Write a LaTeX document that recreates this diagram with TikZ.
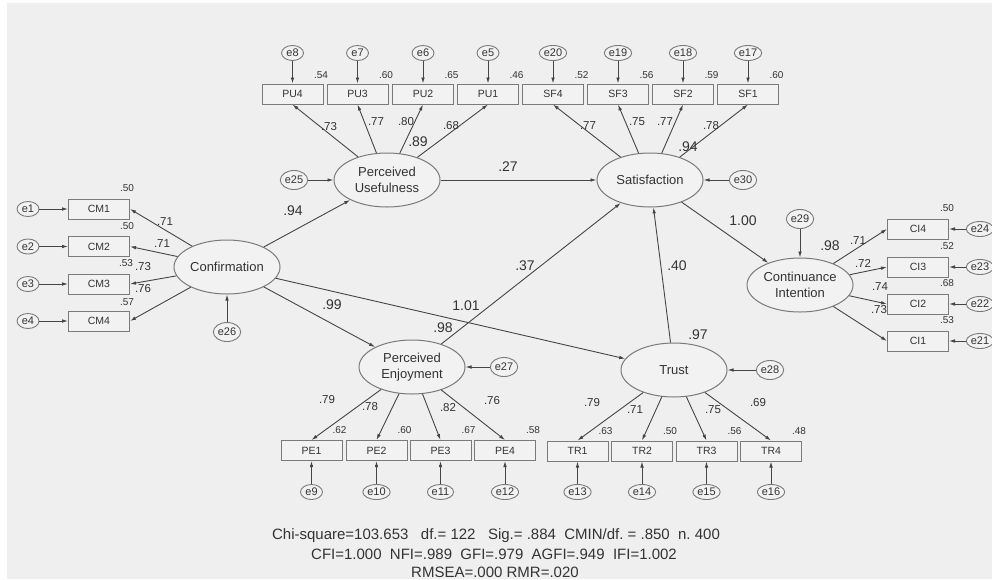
\documentclass[tikz,border=0pt]{standalone}
\usepackage{fontspec}
\setmainfont{Liberation Sans}
\usetikzlibrary{arrows.meta,shapes.geometric}
\definecolor{bg}{HTML}{EFEFEF}
\definecolor{ink}{HTML}{333333}
\definecolor{edge}{HTML}{454545}
\definecolor{boxline}{HTML}{7A7A7A}
\definecolor{boxfill}{HTML}{F2F2F2}
\frenchspacing
\begin{document}
\begin{tikzpicture}[x=1pt,y=-1pt,
  latent/.style={ellipse, draw=boxline, fill=boxfill, line width=1pt,
    minimum width=106pt, minimum height=54pt, inner sep=0pt, align=center,
    font=\fontsize{13}{16.5}\selectfont, text=ink},
  indic/.style={rectangle, draw=boxline, fill=boxfill, line width=1pt,
    minimum width=61pt, minimum height=20pt, inner sep=0pt,
    font=\fontsize{10.5}{12}\selectfont, text=ink},
  err/.style={ellipse, draw=boxline, fill=boxfill, line width=0.9pt,
    minimum width=22pt, minimum height=15pt, inner sep=0.5pt,
    font=\fontsize{11}{12}\selectfont, text=ink},
  dist/.style={err, minimum width=27pt, minimum height=19pt},
  arr/.style={draw=edge, line width=0.9pt, -{Latex[length=6pt,width=3.6pt]}},
  rsq/.style={font=\fontsize{10}{12}\selectfont, text=ink, inner sep=0pt},
  wt/.style={font=\fontsize{11.5}{13}\selectfont, text=ink, inner sep=0pt},
  big/.style={font=\fontsize{14}{16}\selectfont, text=ink, inner sep=0pt},
  fit/.style={font=\fontsize{15}{18}\selectfont, text=ink, inner sep=0pt},
]
% canvas
\useasboundingbox (0,0) rectangle (992,579);
\fill[white] (0,0) rectangle (992,579);
\fill[bg] (7,3) rectangle (992,579);

% latent variables
\node[latent] (pu)    at (387,180) {Perceived\\Usefulness};
\node[latent] (sat)   at (650,180) {Satisfaction};
\node[latent] (conf)  at (227,267) {Confirmation};
\node[latent] (ci)    at (800,285) {Continuance\\Intention};
\node[latent] (pe)    at (412,367) {Perceived\\Enjoyment};
\node[latent] (trust) at (674,370) {Trust};

% disturbances of the latent variables
\node[dist] (e25) at (294,180) {e25};
\node[dist] (e30) at (743,180) {e30};
\node[dist] (e26) at (227,332) {e26};
\node[dist] (e29) at (800,219) {e29};
\node[dist] (e27) at (504,367) {e27};
\node[dist] (e28) at (770,370) {e28};
\draw[arr] (e25) -- (pu);
\draw[arr] (e30) -- (sat);
\draw[arr] (e26) -- (conf);
\draw[arr] (e29) -- (ci);
\draw[arr] (e27) -- (pe);
\draw[arr] (e28) -- (trust);

% top indicators: PU and SF
\foreach \nm/\lab/\x/\ee/\r in {pu4/PU4/292.5/e8/.54, pu3/PU3/357.5/e7/.60,
    pu2/PU2/423/e6/.65, pu1/PU1/488/e5/.46}{
  \node[indic] (\nm) at (\x,94) {\lab};
  \node[err] (\ee) at (\x,53) {\ee};
  \draw[arr] (\ee) -- (\nm);
  \draw[arr] (pu) -- (\nm.south);
  \node[rsq] at (\x+28.5,75) {\r};
}
\foreach \nm/\lab/\x/\ee/\r in {sf4/SF4/553/e20/.52, sf3/SF3/618/e19/.56,
    sf2/SF2/683/e18/.59, sf1/SF1/748/e17/.60}{
  \node[indic] (\nm) at (\x,94) {\lab};
  \node[err] (\ee) at (\x,53) {\ee};
  \draw[arr] (\ee) -- (\nm);
  \draw[arr] (sat) -- (\nm.south);
  \node[rsq] at (\x+28.5,75) {\r};
}

% left indicators: CM
\foreach \nm/\lab/\y/\ee/\r in {cm1/CM1/209/e1/.50, cm2/CM2/246.5/e2/.50,
    cm3/CM3/284/e3/.53, cm4/CM4/321/e4/.57}{
  \node[indic] (\nm) at (99,\y) {\lab};
  \node[err] (\ee) at (28,\y) {\ee};
  \draw[arr] (\ee) -- (\nm);
  \draw[arr] (conf) -- (\nm.east);
}
\node[rsq] at (127,188) {.50};
\node[rsq] at (127,226) {.50};
\node[rsq] at (126,263) {.53};
\node[rsq] at (127,302) {.57};

% right indicators: CI
\foreach \nm/\lab/\y/\ee/\r in {ci4/CI4/229/e24/.50, ci3/CI3/267/e23/.52,
    ci2/CI2/304/e22/.68, ci1/CI1/341/e21/.53}{
  \node[indic] (\nm) at (918,\y) {\lab};
  \node[err] (\ee) at (980,\y) {\ee};
  \draw[arr] (\ee) -- (\nm);
  \draw[arr] (ci) -- (\nm.west);
  \node[rsq] at (947,\y-21) {\r};
}

% bottom indicators: PE and TR
\foreach \nm/\lab/\x/\ee/\r in {pe1/PE1/311.5/e9/.62, pe2/PE2/376.5/e10/.60,
    pe3/PE3/440.5/e11/.67, pe4/PE4/505/e12/.58}{
  \node[indic] (\nm) at (\x,450.5) {\lab};
  \node[err] (\ee) at (\x,492) {\ee};
  \draw[arr] (\ee) -- (\nm);
  \draw[arr] (pe) -- (\nm.north);
  \node[rsq] at (\x+28,430) {\r};
}
\foreach \nm/\lab/\x/\ee/\r in {tr1/TR1/577.5/e13/.63, tr2/TR2/642/e14/.50,
    tr3/TR3/706.5/e15/.56, tr4/TR4/771/e16/.48}{
  \node[indic] (\nm) at (\x,451) {\lab};
  \node[err] (\ee) at (\x,492) {\ee};
  \draw[arr] (\ee) -- (\nm);
  \draw[arr] (trust) -- (\nm.north);
  \node[rsq] at (\x+28,431) {\r};
}

% structural paths
\draw[arr] (conf) -- (pu);
\draw[arr] (conf) -- (pe);
\draw[arr] (conf) -- (trust);
\draw[arr] (pu) -- (sat);
\draw[arr] (pe) -- (sat);
\draw[arr] (trust) -- (sat);
\draw[arr] (sat) -- (ci);

% factor loadings
\node[wt] at (329,127) {.73};
\node[wt] at (376,122) {.77};
\node[wt] at (406,122) {.80};
\node[wt] at (451,126) {.68};
\node[wt] at (588,126) {.77};
\node[wt] at (637,122) {.75};
\node[wt] at (665,122) {.77};
\node[wt] at (711,126) {.78};
\node[wt] at (165,222) {.71};
\node[wt] at (162,244) {.71};
\node[wt] at (143,267) {.73};
\node[wt] at (143,289) {.76};
\node[wt] at (858,241) {.71};
\node[wt] at (863,263) {.72};
\node[wt] at (880,287) {.74};
\node[wt] at (879,310) {.73};
\node[wt] at (327,400) {.79};
\node[wt] at (370,407) {.78};
\node[wt] at (448,408) {.82};
\node[wt] at (492,401) {.76};
\node[wt] at (592,403) {.79};
\node[wt] at (635,410) {.71};
\node[wt] at (713,410) {.75};
\node[wt] at (758,403) {.69};

% squared multiple correlations of the latent variables
\node[big] at (418,142) {.89};
\node[big] at (688,147) {.94};
\node[big] at (830,246) {.98};
\node[big] at (443,328) {.98};
\node[big] at (698,335) {.97};

% structural coefficients
\node[big] at (293,211) {.94};
\node[big] at (508,167) {.27};
\node[big] at (525,266) {.37};
\node[big] at (677,266) {.40};
\node[big] at (332,305) {.99};
\node[big] at (466,306) {1.01};
\node[big] at (743,221) {1.00};

% model fit
\node[fit] (fit1) at (496,536) {Chi-square=103.653\ \ \ df.= 122\ \ \ Sig.= .884\ \ CMIN/df. = .850\ \ n. 400};
\node[fit] (fit2) at (494,554) {CFI=1.000\ \ NFI=.989\ \ GFI=.979\ \ AGFI=.949\ \ IFI=1.002};
\node[fit] (fit3) at (495,572) {RMSEA=.000 RMR=.020};
\end{tikzpicture}
\end{document}
